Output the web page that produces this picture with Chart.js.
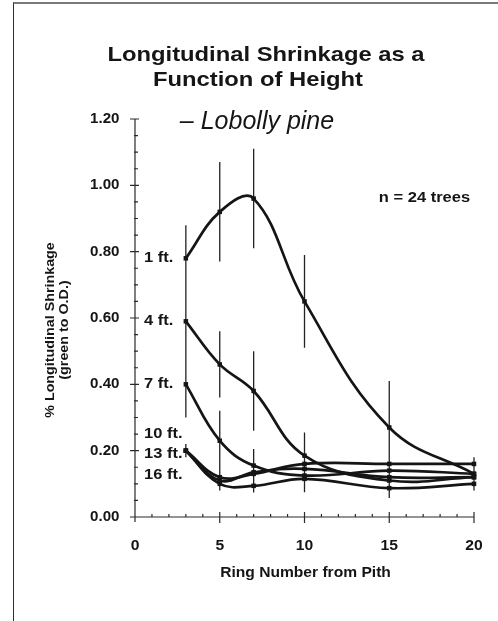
<!DOCTYPE html>
<html>
<head>
<meta charset="utf-8">
<script src="https://cdn.jsdelivr.net/npm/chart.js@4.4.1/dist/chart.umd.min.js"></script>
<style>
  html, body { margin: 0; padding: 0; background: #fff; }
  #wrap { position: relative; width: 498px; height: 621px; overflow: hidden; }
  #frame { position: absolute; left: 13px; top: 2px; right: -4px; bottom: -4px;
           border-left: 1.5px solid #2e2e2e; border-top: 2px solid #7a7a7a; }
  canvas { position: absolute; left: 0; top: 0; }
</style>
</head>
<body>
<div id="wrap">
  <canvas id="c" width="498" height="621"></canvas>
  <div id="frame"></div>
</div>
<script>
// Ring positions sampled from the pith outward
const ringNumbers = [3, 5, 7, 10, 15, 20];

// Sampling heights
const heightLabels = ['1 ft.', '4 ft.', '7 ft.', '10 ft.', '13 ft.', '16 ft.'];

// Mean longitudinal shrinkage (%), green to oven-dry
const shrink1ft  = [0.78, 0.92, 0.96, 0.65, 0.27, 0.13];
const shrink4ft  = [0.59, 0.46, 0.38, 0.185, 0.11, 0.12];
const shrink7ft  = [0.40, 0.23, 0.155, 0.125, 0.14, 0.13];
const shrink10ft = [0.20, 0.12, 0.13, 0.16, 0.16, 0.16];
const shrink13ft = [0.20, 0.11, 0.135, 0.145, 0.12, 0.12];
const shrink16ft = [0.20, 0.10, 0.094, 0.115, 0.087, 0.10];

// Half-length of the variability bars
const err1ft  = [0.10, 0.15, 0.15, 0.14, 0.14, 0.02];
const err4ft  = [0.12, 0.10, 0.12, 0.07, 0.03, 0.02];
const err7ft  = [0.10, 0.09, 0.05, 0.04, 0.03, 0.02];
const err10ft = [0.02, 0.02, 0.03, 0.03, 0.03, 0.02];
const err13ft = [0.02, 0.02, 0.03, 0.03, 0.03, 0.02];
const err16ft = [0.02, 0.02, 0.02, 0.04, 0.03, 0.02];

// Axis ticks
const xTicks = [0, 5, 10, 15, 20];
const yTicks = [0, 0.2, 0.4, 0.6, 0.8, 1.0, 1.2];

const seriesValues = [shrink1ft, shrink4ft, shrink7ft, shrink10ft, shrink13ft, shrink16ft];
const seriesErrors = [err1ft, err4ft, err7ft, err10ft, err13ft, err16ft];

const INK = '#151515';
const FONT = '"Liberation Sans", Arial, Helvetica, sans-serif';

function drawText(ctx, s, x, y, font, align, sx, rot) {
  ctx.save();
  ctx.translate(x, y);
  if (rot) ctx.rotate(rot);
  ctx.scale(sx || 1, 1);
  ctx.font = font;
  ctx.fillStyle = INK;
  ctx.textAlign = align || 'center';
  ctx.textBaseline = 'middle';
  ctx.fillText(s, 0, 0);
  ctx.restore();
}

// Axes with crossing major ticks and small minor ticks
const axesPlugin = {
  id: 'axes',
  beforeDatasetsDraw(chart) {
    const { ctx, scales: { x, y } } = chart;
    const x0 = x.getPixelForValue(0), x1 = x.getPixelForValue(20);
    const y0 = y.getPixelForValue(0), y1 = y.getPixelForValue(1.2);
    ctx.save();
    ctx.strokeStyle = '#2a2a2a';
    ctx.lineWidth = 1.2;
    ctx.beginPath();
    ctx.moveTo(x0, y1); ctx.lineTo(x0, y0 + 5);
    ctx.moveTo(x0 - 4, y0); ctx.lineTo(x1, y0);
    // y ticks
    for (let v = 0; v <= 120; v += 5) {
      const py = y.getPixelForValue(v / 100);
      if (v % 20 === 0) { ctx.moveTo(x0 - 5, py); ctx.lineTo(x0 + 4, py); }
      else { ctx.moveTo(x0 - 1, py); ctx.lineTo(x0 + 3, py); }
    }
    // x ticks
    for (let v = 1; v <= 20; v++) {
      const px = x.getPixelForValue(v);
      if (v % 5 === 0) { ctx.moveTo(px, y0 - 5); ctx.lineTo(px, y0 + 6); }
      else { ctx.moveTo(px, y0 - 3); ctx.lineTo(px, y0); }
    }
    ctx.stroke();

    // variability bars
    ctx.strokeStyle = '#222';
    ctx.lineWidth = 1.3;
    ctx.beginPath();
    seriesValues.forEach((vals, s) => {
      vals.forEach((v, i) => {
        const px = x.getPixelForValue(ringNumbers[i]);
        const e = seriesErrors[s][i];
        ctx.moveTo(px, y.getPixelForValue(v + e));
        ctx.lineTo(px, y.getPixelForValue(v - e));
      });
    });
    ctx.stroke();
    ctx.restore();
  },
  afterDraw(chart) {
    const { ctx, scales: { x, y } } = chart;
    const bold = (px) => `bold ${px}px ${FONT}`;

    // titles
    drawText(ctx, 'Longitudinal Shrinkage as a', 266, 55, bold(20.5), 'center', 1.16);
    drawText(ctx, 'Function of Height', 258, 80, bold(20.5), 'center', 1.16);
    drawText(ctx, '\u2013 Lobolly pine', 257, 122, `italic 25px ${FONT}`, 'center', 1);

    // tick labels
    yTicks.forEach(v => {
      drawText(ctx, v.toFixed(2), 119.5, y.getPixelForValue(v), bold(14), 'right', 1.08);
    });
    xTicks.forEach(v => {
      drawText(ctx, String(v), x.getPixelForValue(v), 546, bold(14), 'center', 1.12);
    });

    // axis titles
    drawText(ctx, 'Ring Number from Pith', (x.left + x.right) / 2 + 1, 573, bold(15), 'center', 1.04);
    drawText(ctx, '% Longitudinal Shrinkage', 50, 330, bold(13), 'center', 1.1, -Math.PI / 2);
    drawText(ctx, '(green to O.D.)', 64, 330, bold(13), 'center', 1.1, -Math.PI / 2);

    // sample size
    drawText(ctx, 'n = 24 trees', 424.5, 198, bold(15), 'center', 1.1);

    // height labels beside the first ring
    const labelShift = [0, 0, 0, -17, 3, 24];
    heightLabels.forEach((lab, s) => {
      const py = y.getPixelForValue(seriesValues[s][0]) + labelShift[s];
      drawText(ctx, lab, 144, py, bold(15), 'left', 1.1);
    });
  }
};

const datasets = seriesValues.map((vals, s) => ({
  label: heightLabels[s],
  data: vals.map((v, i) => ({ x: ringNumbers[i], y: v })),
  borderColor: INK,
  backgroundColor: INK,
  borderWidth: 2.7,
  tension: 0.4,
  pointStyle: 'rect',
  pointRadius: 3.2,
  pointBorderWidth: 0,
  clip: false
}));

new Chart(document.getElementById('c'), {
  type: 'line',
  data: { datasets },
  options: {
    responsive: false,
    animation: false,
    layout: { padding: { left: 135, right: 24, top: 119, bottom: 104 } },
    scales: {
      x: { type: 'linear', min: 0, max: 20, display: false },
      y: { type: 'linear', min: 0, max: 1.2, display: false }
    },
    plugins: { legend: { display: false }, tooltip: { enabled: false } }
  },
  plugins: [axesPlugin]
});
</script>
</body>
</html>
